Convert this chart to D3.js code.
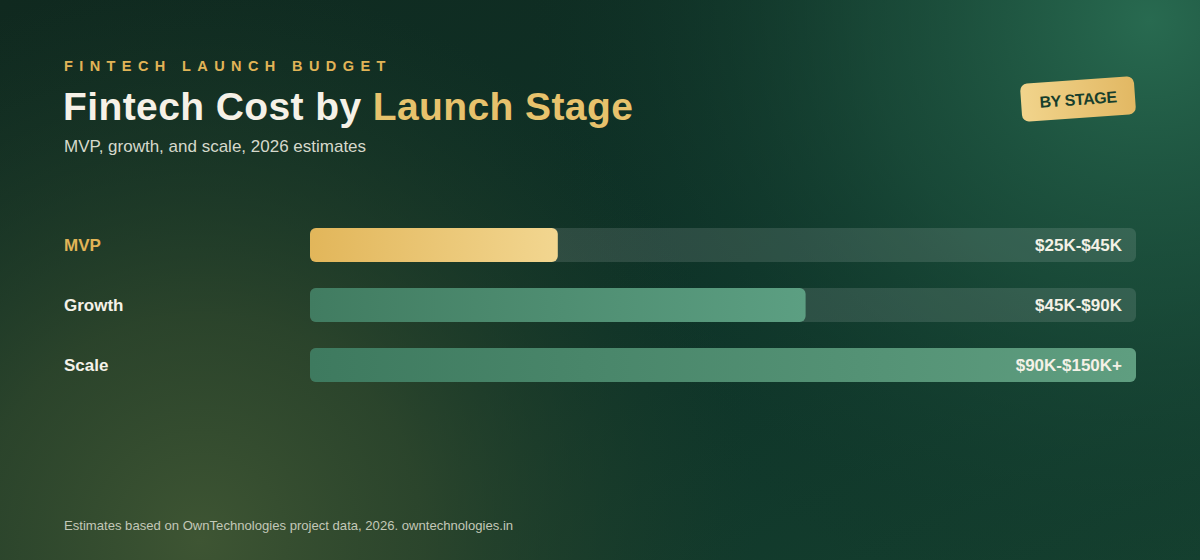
<!DOCTYPE html>
<html>
<head>
<meta charset="utf-8">
<script src="https://cdn.jsdelivr.net/npm/d3@7"></script>
<style>
  html, body { margin: 0; padding: 0; background: #0f3327; }
  svg { display: block; font-family: "Liberation Sans", Arial, Helvetica, sans-serif; }
</style>
</head>
<body>
<div class="container"></div>
<script>
const w = 1200
const h = 560

// data
const stages = ['MVP', 'Growth', 'Scale']
const lowK = [25, 45, 90]
const highK = [45, 90, 150]
const rangeLabels = ['$25K-$45K', '$45K-$90K', '$90K-$150K+']
const maxK = 150

const svg = d3.select('.container')
    .append('svg')
    .attr('width', w)
    .attr('height', h)

const defs = svg.append('defs')

// background glows
const addRadial = (id, stops, cx, cy, r) => {
    const g = defs.append('radialGradient')
        .attr('id', id)
        .attr('gradientUnits', 'userSpaceOnUse')
        .attr('cx', cx).attr('cy', cy).attr('r', r)
    stops.forEach(s => g.append('stop').attr('offset', s[0]).attr('stop-color', s[1]).attr('stop-opacity', s[2]))
}
const addLinear = (id, c1, c2) => {
    const g = defs.append('linearGradient').attr('id', id)
        .attr('x1', '0%').attr('x2', '100%').attr('y1', '0%').attr('y2', '0%')
    g.append('stop').attr('offset', '0%').attr('stop-color', c1)
    g.append('stop').attr('offset', '100%').attr('stop-color', c2)
}

const bgLin = defs.append('linearGradient').attr('id', 'bgLin')
    .attr('x1', '0%').attr('y1', '0%').attr('x2', '100%').attr('y2', '100%')
bgLin.append('stop').attr('offset', '0%').attr('stop-color', '#10291f')
bgLin.append('stop').attr('offset', '55%').attr('stop-color', '#0e3328')
bgLin.append('stop').attr('offset', '100%').attr('stop-color', '#15402f')

addRadial('glowTR', [['0%', '#286a50', 1], ['45%', '#1f5641', 0.6], ['100%', '#0e3328', 0]], 1150, 20, 620)
addRadial('glowBL', [['0%', '#3e5533', 1], ['40%', '#344a2d', 0.75], ['100%', '#1c3a28', 0]], 200, 540, 560)

addLinear('goldFill', '#e2b65a', '#f2d690')
addLinear('growthFill', '#417c61', '#5c9f82')
addLinear('scaleFill', '#3e7a5f', '#5f9e80')
addLinear('badgeFill', '#f1d48c', '#e2b863')

svg.append('rect').attr('width', w).attr('height', h).attr('fill', 'url(#bgLin)')
svg.append('rect').attr('width', w).attr('height', h).attr('fill', 'url(#glowTR)')
svg.append('rect').attr('width', w).attr('height', h).attr('fill', 'url(#glowBL)')

// header
svg.append('text')
    .text('FINTECH LAUNCH BUDGET')
    .attr('x', 64).attr('y', 71)
    .attr('fill', '#e1b457')
    .attr('font-size', 14.5).attr('font-weight', 700)
    .attr('letter-spacing', 6.4)

const title = svg.append('text')
    .attr('x', 63).attr('y', 120)
    .attr('font-size', 39).attr('font-weight', 700)
    .attr('letter-spacing', 0.4)
title.append('tspan').text('Fintech Cost by ').attr('fill', '#f6f1e7')
title.append('tspan').text('Launch Stage').attr('fill', '#e7c26c')

svg.append('text')
    .text('MVP, growth, and scale, 2026 estimates')
    .attr('x', 64).attr('y', 152)
    .attr('fill', '#d6d9cc')
    .attr('font-size', 17)

// badge
const badge = svg.append('g').attr('transform', 'translate(1078,99) rotate(-4)')
badge.append('rect')
    .attr('x', -57).attr('y', -19).attr('width', 114).attr('height', 38)
    .attr('rx', 7).attr('fill', 'url(#badgeFill)')
badge.append('text')
    .text('BY STAGE')
    .attr('text-anchor', 'middle').attr('y', 6)
    .attr('fill', '#173e2c')
    .attr('font-size', 16).attr('font-weight', 700)
    .attr('letter-spacing', -0.4)

// scales
const x = d3.scaleLinear().domain([0, maxK]).range([310, 1136])
const y = d3.scaleBand().domain(stages).range([216, 394]).paddingInner(0.4333).paddingOuter(0.2)
const fills = ['url(#goldFill)', 'url(#growthFill)', 'url(#scaleFill)']

const rows = svg.selectAll('g.row')
    .data(stages)
    .enter()
    .append('g')
    .attr('class', 'row')

rows.append('rect')
    .attr('x', x(0))
    .attr('y', d => y(d))
    .attr('width', x(maxK) - x(0))
    .attr('height', y.bandwidth())
    .attr('rx', 6)
    .attr('fill', '#ffffff')
    .attr('fill-opacity', 0.12)

rows.append('rect')
    .attr('x', x(0))
    .attr('y', d => y(d))
    .attr('width', (d, i) => x(highK[i]) - x(0))
    .attr('height', y.bandwidth())
    .attr('rx', 6)
    .attr('fill', (d, i) => fills[i])

rows.append('text')
    .text(d => d)
    .attr('x', 64)
    .attr('y', d => y(d) + y.bandwidth() / 2 + 6)
    .attr('fill', (d, i) => i === 0 ? '#e1b457' : '#f4f1e8')
    .attr('font-size', 17).attr('font-weight', 700)

rows.append('text')
    .text((d, i) => rangeLabels[i])
    .attr('x', x(maxK) - 14)
    .attr('y', d => y(d) + y.bandwidth() / 2 + 6)
    .attr('text-anchor', 'end')
    .attr('fill', '#f4f1e6')
    .attr('font-size', 17).attr('font-weight', 700)

// footer
svg.append('text')
    .text('Estimates based on OwnTechnologies project data, 2026. owntechnologies.in')
    .attr('x', 64).attr('y', 530)
    .attr('fill', '#c3c8b8')
    .attr('font-size', 13.1)
</script>
</body>
</html>
